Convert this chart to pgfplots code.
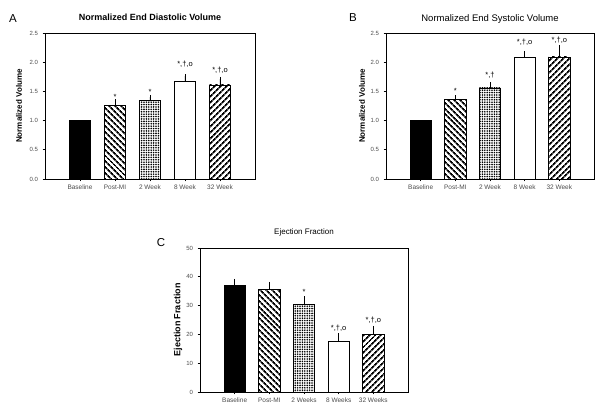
\documentclass[border=0pt]{standalone}
\usepackage{pgfplots}
\pgfplotsset{compat=1.18}
\usepackage{fontspec}
\setmainfont{Liberation Sans}
\usetikzlibrary{patterns.meta}

\tikzset{
  stripeA/.style={pattern={Lines[angle=-45,distance=4pt,line width=1.9pt]}},
  stripeB/.style={pattern={Lines[angle=45,distance=4pt,line width=1.9pt]}},
  dotsP/.style={pattern={Dots[distance=2.4pt,radius=0.9pt]}},
  ann/.style={font=\fontsize{7.5}{8}\selectfont, anchor=base, inner sep=0pt},
}

\pgfplotsset{
  panel/.style={
    scale only axis,
    xmin=-1, xmax=5, ymin=0,
    xtick={0,1,2,3,4},
    tick align=outside, xtick pos=bottom, ytick pos=left,
    major tick length=2.5pt,
    axis line style={line width=0.7pt},
    every tick/.style={black, line width=0.6pt},
    /pgf/number format/assume math mode=true,
    tick label style={text=black!70},
    xticklabel style={font=\fontsize{6.5}{7}\selectfont},
    yticklabel style={font=\fontsize{6}{7}\selectfont, xshift=-1pt},
    ybar, bar width=0.61, bar shift=0pt,
    error bars/y dir=plus, error bars/y explicit,
    error bars/error bar style={line width=0.8pt, black},
    error bars/error mark options={mark size=2.2pt, line width=0.8pt, black},
    ylabel style={anchor=center},
  },
}

\begin{document}
\begin{tikzpicture}
\useasboundingbox (0,0) rectangle (601pt,419pt);
% warm-up pattern uses (invisible, tiny)
\path[stripeA] (0,0) rectangle (0.01pt,0.01pt);
\path[stripeB] (0,0) rectangle (0.01pt,0.01pt);
\path[dotsP] (0,0) rectangle (0.01pt,0.01pt);
\fill[white] (-2pt,-2pt) rectangle (8pt,8pt);

% ---------- Panel A ----------
\begin{axis}[panel,
  at={(45pt,240pt)}, anchor=south west,
  width=210pt, height=146pt,
  ymax=2.5, ytick={0,0.5,1,1.5,2,2.5},
  yticklabel style={/pgf/number format/.cd, fixed, fixed zerofill, precision=1},
  xticklabels={Baseline, Post-MI, 2 Week, 8 Week, 32 Week},
  title={Normalized End Diastolic Volume},
  title style={font=\bfseries\fontsize{9}{10}\selectfont, at={(axis description cs:0.5,1)}, anchor=base, yshift=6.5pt},
  ylabel={Normalized Volume},
  ylabel style={font=\bfseries\fontsize{8}{9}\selectfont, at={(axis description cs:-0.124,0.5)}},
]
\addplot[fill=black, draw=black, line width=0.6pt, error bars/y dir=none] coordinates {(0,1.00)};
\addplot[stripeA, draw=black, line width=0.6pt] coordinates {(1,1.26) +- (0,0.07)};
\addplot[dotsP, draw=black, line width=0.6pt] coordinates {(2,1.34) +- (0,0.06)};
\addplot[fill=white, draw=black, line width=0.6pt] coordinates {(3,1.68) +- (0,0.08)};
\addplot[stripeB, draw=black, line width=0.6pt] coordinates {(4,1.61) +- (0,0.10)};
\node[ann] at (axis cs:1,1.365) {*};
\node[ann] at (axis cs:2,1.455) {*};
\node[ann] at (axis cs:3,1.92) {*,†,o};
\node[ann] at (axis cs:4,1.82) {*,†,o};
\end{axis}

% ---------- Panel B ----------
\begin{axis}[panel,
  at={(386pt,240pt)}, anchor=south west,
  width=208pt, height=146pt,
  ymax=2.5, ytick={0,0.5,1,1.5,2,2.5},
  yticklabel style={/pgf/number format/.cd, fixed, fixed zerofill, precision=1},
  xticklabels={Baseline, Post-MI, 2 Week, 8 Week, 32 Week},
  title={Normalized End Systolic Volume},
  title style={font=\fontsize{9.5}{10}\selectfont, at={(axis description cs:0.5,1)}, anchor=base, yshift=5.5pt},
  ylabel={Normalized Volume},
  ylabel style={font=\bfseries\fontsize{8}{9}\selectfont, at={(axis description cs:-0.115,0.5)}},
]
\addplot[fill=black, draw=black, line width=0.6pt, error bars/y dir=none] coordinates {(0,1.00)};
\addplot[stripeA, draw=black, line width=0.6pt] coordinates {(1,1.36) +- (0,0.04)};
\addplot[dotsP, draw=black, line width=0.6pt] coordinates {(2,1.56) +- (0,0.06)};
\addplot[fill=white, draw=black, line width=0.6pt] coordinates {(3,2.09) +- (0,0.06)};
\addplot[stripeB, draw=black, line width=0.6pt] coordinates {(4,2.09) +- (0,0.17)};
\node[ann] at (axis cs:1,1.47) {*};
\node[ann] at (axis cs:2,1.73) {*,†};
\node[ann] at (axis cs:3,2.30) {*,†,o};
\node[ann] at (axis cs:4,2.33) {*,†,o};
\end{axis}

% ---------- Panel C ----------
\begin{axis}[panel,
  at={(200pt,27pt)}, anchor=south west,
  width=208pt, height=144pt,
  ymax=50, ytick={0,10,20,30,40,50},
  xticklabels={Baseline, Post-MI, 2 Weeks, 8 Weeks, 32 Weeks},
  title={Ejection Fraction},
  title style={font=\fontsize{8}{9}\selectfont, at={(axis description cs:0.5,1)}, anchor=base, yshift=7pt},
  ylabel={Ejection Fraction},
  ylabel style={font=\bfseries\fontsize{9}{10}\selectfont, at={(axis description cs:-0.106,0.5)}},
]
\addplot[fill=black, draw=black, line width=0.6pt] coordinates {(0,36.9) +- (0,1.6)};
\addplot[stripeA, draw=black, line width=0.6pt] coordinates {(1,35.6) +- (0,1.9)};
\addplot[dotsP, draw=black, line width=0.6pt] coordinates {(2,30.3) +- (0,2.1)};
\addplot[fill=white, draw=black, line width=0.6pt] coordinates {(3,17.7) +- (0,1.9)};
\addplot[stripeB, draw=black, line width=0.6pt] coordinates {(4,20.0) +- (0,2.2)};
\node[ann] at (axis cs:2,33.8) {*};
\node[ann] at (axis cs:3,21.4) {*,†,o};
\node[ann] at (axis cs:4,24.0) {*,†,o};
\end{axis}

% panel letters
\node[font=\fontsize{11.5}{12}\selectfont] at (13pt,400pt) {A};
\node[font=\fontsize{11.5}{12}\selectfont] at (353pt,401pt) {B};
\node[font=\fontsize{11.5}{12}\selectfont] at (161pt,176pt) {C};
\end{tikzpicture}
\end{document}
